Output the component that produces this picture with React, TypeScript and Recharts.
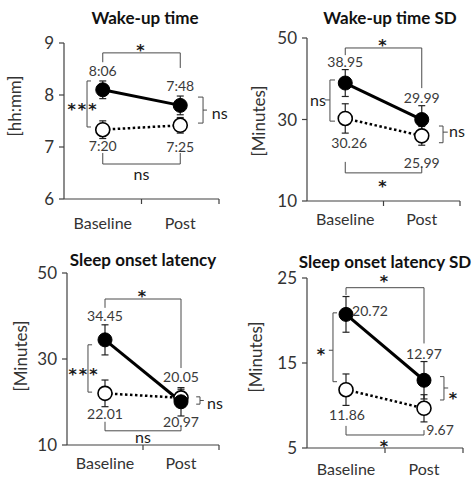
import React from 'react';
import { LineChart, Line, XAxis, YAxis, ErrorBar, ReferenceLine, ReferenceDot } from 'recharts';

const categories = ['Baseline', 'Post'];

// Wake-up time (hours, shown as hh:mm)
const wakeBlack = [8.1, 7.8];
const wakeBlackErr = [0.17, 0.18];
const wakeWhite = [7.333, 7.417];
const wakeWhiteErr = [0.17, 0.15];
const wakeTicks = [6, 7, 8, 9];
const wakeSig = ['*', '***', 'ns', 'ns'];

// Wake-up time SD (minutes)
const wakeSdBlack = [38.95, 29.99];
const wakeSdBlackErr = [3.3, 3.4];
const wakeSdWhite = [30.26, 25.99];
const wakeSdWhiteErr = [3.6, 2.3];
const wakeSdTicks = [10, 30, 50];
const wakeSdSig = ['*', 'ns', 'ns', '*'];

// Sleep onset latency (minutes)
const solBlack = [34.45, 20.05];
const solBlackErr = [3.5, 3.3];
const solWhite = [22.01, 20.97];
const solWhiteErr = [3.1, 2.0];
const solTicks = [10, 30, 50];
const solSig = ['*', '***', 'ns', 'ns'];

// Sleep onset latency SD (minutes)
const solSdBlack = [20.72, 12.97];
const solSdBlackErr = [2.1, 2.2];
const solSdWhite = [11.86, 9.67];
const solSdWhiteErr = [1.85, 1.6];
const solSdTicks = [5, 15, 25];
const solSdSig = ['*', '*', '*', '*'];

const FONT = 'Lato, "Open Sans", sans-serif';
const STAR_FONT = '"DejaVu Sans", sans-serif';
const INK = '#333';
const AXIS = '#404040';
const BR = '#4a4a4a';

const toHHMM = (v: number) => {
  const h = Math.floor(v);
  const m = Math.round((v - h) * 60);
  return `${h}:${String(m).padStart(2, '0')}`;
};
const toFix2 = (v: number) => v.toFixed(2);

type HB = { kind: 'h'; x1: number; x2: number; y: number; leg1: number; leg2: number };
type VB = { kind: 'v'; x: number; y1: number; y2: number; arm: number; mid?: number; midY?: number };
type Note = { x: number; y: number };

type Panel = {
  title: string;
  yLabel: string;
  left: number;
  top: number;
  width: number;
  height: number;
  marginTop: number;
  marginRight: number;
  yAxisWidth: number;
  xAxisHeight: number;
  xLabelDy: number;
  domain: [number, number];
  ticks: number[];
  black: number[];
  blackErr: number[];
  white: number[];
  whiteErr: number[];
  fmt: (v: number) => string;
  blackOff: [number, number][];
  whiteOff: [number, number][];
  brackets: (HB | VB)[];
  sig: string[];
  notes: Note[];
  titlePos: [number, number];
  yLabelPos: [number, number];
};

const panels: Panel[] = [
  {
    title: 'Wake-up time', yLabel: '[hh:mm]',
    left: 0, top: 0, width: 238, height: 240,
    marginTop: 43, marginRight: 19, yAxisWidth: 64, xAxisHeight: 41, xLabelDy: 23,
    domain: [6, 9], ticks: wakeTicks,
    black: wakeBlack, blackErr: wakeBlackErr, white: wakeWhite, whiteErr: wakeWhiteErr,
    fmt: toHHMM,
    blackOff: [[0, -19], [0, -20]], whiteOff: [[0, 16], [0, 21]],
    brackets: [
      { kind: 'h', x1: 0.5, x2: 1.5, y: 8.81, leg1: 8.63, leg2: 8.52 },
      { kind: 'v', x: 0.297, y1: 8.27, y2: 7.385, arm: 0.348 },
      { kind: 'v', x: 1.794, y1: 7.96, y2: 7.46, arm: 1.729, mid: 1.845, midY: 7.71 },
      { kind: 'h', x1: 0.5, x2: 1.5, y: 6.673, leg1: 6.885, leg2: 6.885 },
    ],
    sig: wakeSig,
    notes: [{ x: 1.0, y: 8.94 }, { x: 0.245, y: 7.81 }, { x: 2.01, y: 7.67 }, { x: 1.0, y: 6.5 }],
    titlePos: [145, 18], yLabelPos: [14, 106],
  },
  {
    title: 'Wake-up time SD', yLabel: '[Minutes]',
    left: 238, top: 0, width: 238, height: 240,
    marginTop: 38, marginRight: 16, yAxisWidth: 69, xAxisHeight: 39, xLabelDy: 17,
    domain: [10, 50], ticks: wakeSdTicks,
    black: wakeSdBlack, blackErr: wakeSdBlackErr, white: wakeSdWhite, whiteErr: wakeSdWhiteErr,
    fmt: toFix2,
    blackOff: [[0, -22], [0, -22.5]], whiteOff: [[4, 24], [0, 27]],
    brackets: [
      { kind: 'h', x1: 0.5, x2: 1.5, y: 47.55, leg1: 45.8, leg2: 37.7 },
      { kind: 'v', x: 0.3, y1: 39.7, y2: 29.6, arm: 0.366, mid: 0.235, midY: 34.8 },
      { kind: 'v', x: 1.778, y1: 28.4, y2: 24.3, arm: 1.725, mid: 1.84, midY: 26.9 },
      { kind: 'h', x1: 0.5, x2: 1.5, y: 16.9, leg1: 19.6, leg2: 18.5 },
    ],
    sig: wakeSdSig,
    notes: [{ x: 1.0, y: 49.3 }, { x: 0.144, y: 34.8 }, { x: 1.96, y: 27.2 }, { x: 1.0, y: 14.7 }],
    titlePos: [152, 18], yLabelPos: [20, 121],
  },
  {
    title: 'Sleep onset latency', yLabel: '[Minutes]',
    left: 0, top: 240, width: 238, height: 242,
    marginTop: 33, marginRight: 19, yAxisWidth: 67, xAxisHeight: 37, xLabelDy: 17,
    domain: [10, 50], ticks: solTicks,
    black: solBlack, blackErr: solBlackErr, white: solWhite, whiteErr: solWhiteErr,
    fmt: toFix2,
    blackOff: [[0, -24], [0, -25]], whiteOff: [[0, 20], [0, 24]],
    brackets: [
      { kind: 'h', x1: 0.5, x2: 1.5, y: 43.95, leg1: 41.9, leg2: 27.9 },
      { kind: 'v', x: 0.276, y1: 33.3, y2: 22.3, arm: 0.33 },
      { kind: 'v', x: 1.75, y1: 21.2, y2: 19.5, arm: 1.7, mid: 1.8, midY: 20.35 },
      { kind: 'h', x1: 0.5, x2: 1.5, y: 13.3, leg1: 15.4, leg2: 14.2 },
    ],
    sig: solSig,
    notes: [{ x: 1.0, y: 45.7 }, { x: 0.224, y: 27.4 }, { x: 1.947, y: 20.0 }, { x: 1.0, y: 11.9 }],
    titlePos: [143, 20], yLabelPos: [20, 116],
  },
  {
    title: 'Sleep onset latency SD', yLabel: '[Minutes]',
    left: 238, top: 240, width: 238, height: 242,
    marginTop: 38, marginRight: 13, yAxisWidth: 69, xAxisHeight: 34, xLabelDy: 20,
    domain: [5, 25], ticks: solSdTicks,
    black: solSdBlack, blackErr: solSdBlackErr, white: solSdWhite, whiteErr: solSdWhiteErr,
    fmt: toFix2,
    blackOff: [[24, -4], [0, -27]], whiteOff: [[1, 25], [16, 21]],
    brackets: [
      { kind: 'h', x1: 0.5, x2: 1.5, y: 23.86, leg1: 23.0, leg2: 17.3 },
      { kind: 'v', x: 0.333, y1: 20.9, y2: 12.8, arm: 0.385, mid: 0.28, midY: 16.5 },
      { kind: 'v', x: 1.756, y1: 13.4, y2: 10.65, arm: 1.705, mid: 1.81, midY: 12.06 },
      { kind: 'h', x1: 0.5, x2: 1.5, y: 6.53, leg1: 7.6, leg2: 7.1 },
    ],
    sig: solSdSig,
    notes: [{ x: 1.0, y: 25.2 }, { x: 0.19, y: 16.6 }, { x: 1.885, y: 11.35 }, { x: 1.0, y: 5.8 }],
    titlePos: [147, 22], yLabelPos: [17, 117],
  },
];

function seg(key: string, a: { x: number; y: number }, b: { x: number; y: number }) {
  return (
    <ReferenceLine
      key={key}
      segment={[a, b]}
      stroke={BR}
      strokeWidth={1}
      ifOverflow="visible"
    />
  );
}

function bracketLines(b: HB | VB, key: string) {
  if (b.kind === 'h') {
    return [
      seg(key + 'l', { x: b.x1, y: b.leg1 }, { x: b.x1, y: b.y }),
      seg(key + 'm', { x: b.x1, y: b.y }, { x: b.x2, y: b.y }),
      seg(key + 'r', { x: b.x2, y: b.y }, { x: b.x2, y: b.leg2 }),
    ];
  }
  const out = [
    seg(key + 't', { x: b.arm, y: b.y1 }, { x: b.x, y: b.y1 }),
    seg(key + 'v', { x: b.x, y: b.y1 }, { x: b.x, y: b.y2 }),
    seg(key + 'b', { x: b.x, y: b.y2 }, { x: b.arm, y: b.y2 }),
  ];
  if (b.mid !== undefined && b.midY !== undefined) {
    out.push(seg(key + 'c', { x: b.x, y: b.midY }, { x: b.mid, y: b.midY }));
  }
  return out;
}

function textDot(key: string, x: number, y: number, text: string, dx: number, dy: number, size: number, color: string) {
  const isStar = text.includes('*');
  return (
    <ReferenceDot
      key={key}
      x={x}
      y={y}
      r={1}
      fill="none"
      stroke="none"
      ifOverflow="visible"
      shape={(props: any) => (
        <text
          x={props.cx + dx}
          y={props.cy + dy + (isStar ? size * 0.3 : 0)}
          textAnchor="middle"
          dominantBaseline="central"
          fontFamily={isStar ? STAR_FONT : FONT}
          fontWeight={isStar ? 700 : 400}
          fontSize={size}
          fill={color}
          letterSpacing={isStar ? 2 : 0}
        >
          {text}
        </text>
      )}
    />
  );
}

function PanelChart({ p }: { p: Panel }) {
  const data = categories.map((c, i) => ({
    x: i + 0.5,
    cat: c,
    b: p.black[i],
    be: p.blackErr[i],
    w: p.white[i],
    we: p.whiteErr[i],
  }));

  const xTick = (t: any) => {
    const v = t.payload.value;
    if (Number.isInteger(v)) {
      return <line x1={t.x} x2={t.x} y1={t.y} y2={t.y + 5} stroke={AXIS} strokeWidth={1.2} />;
    }
    return (
      <text
        x={t.x}
        y={t.y + p.xLabelDy}
        textAnchor="middle"
        dominantBaseline="central"
        fontFamily={FONT}
        fontSize={16}
        fill={INK}
      >
        {categories[Math.floor(v)]}
      </text>
    );
  };

  const yLabel = () => (
    <text
      x={p.yLabelPos[0]}
      y={p.yLabelPos[1]}
      transform={`rotate(-90 ${p.yLabelPos[0]} ${p.yLabelPos[1]})`}
      textAnchor="middle"
      dominantBaseline="central"
      fontFamily={FONT}
      fontSize={17}
      fill={INK}
    >
      {p.yLabel}
    </text>
  );

  return (
    <div style={{ position: 'absolute', left: p.left, top: p.top, width: p.width, height: p.height }}>
      <LineChart
        width={p.width}
        height={p.height}
        data={data}
        margin={{ top: p.marginTop, right: p.marginRight, bottom: 0, left: 0 }}
      >
        <XAxis
          dataKey="x"
          type="number"
          domain={[0, 2]}
          ticks={[0.5, 1, 1.5, 2]}
          interval={0}
          tickLine={false}
          tickSize={0}
          tickMargin={0}
          height={p.xAxisHeight}
          axisLine={{ stroke: AXIS, strokeWidth: 1.2 }}
          tick={xTick}
          allowDataOverflow
        />
        <YAxis
          type="number"
          domain={p.domain}
          ticks={p.ticks}
          interval={0}
          width={p.yAxisWidth}
          tickSize={5}
          tickMargin={5}
          axisLine={{ stroke: AXIS, strokeWidth: 1.2 }}
          tickLine={{ stroke: AXIS, strokeWidth: 1.2 }}
          tick={{ fill: INK, fontSize: 17, fontFamily: FONT }}
          allowDataOverflow
          label={{ content: yLabel }}
        />
        {p.brackets.flatMap((b, i) => bracketLines(b, `br${i}`))}
        <Line
          dataKey="w"
          type="linear"
          stroke="#000"
          strokeWidth={2.5}
          strokeDasharray="2.5 2.5"
          dot={{ r: 7, fill: '#fff', stroke: '#000', strokeWidth: 1.6, strokeDasharray: '0' }}
          activeDot={false}
          isAnimationActive={false}
        >
          <ErrorBar dataKey="we" direction="y" width={3.5} stroke="#222" strokeWidth={1.2} />
        </Line>
        <Line
          dataKey="b"
          type="linear"
          stroke="#000"
          strokeWidth={3}
          dot={{ r: 7, fill: '#000', stroke: '#000', strokeWidth: 1 }}
          activeDot={false}
          isAnimationActive={false}
        >
          <ErrorBar dataKey="be" direction="y" width={3.5} stroke="#222" strokeWidth={1.2} />
        </Line>
        {data.map((d, i) =>
          textDot(`bl${i}`, d.x, d.b, p.fmt(d.b), p.blackOff[i][0], p.blackOff[i][1], 14, '#3a3a3a')
        )}
        {data.map((d, i) =>
          textDot(`wl${i}`, d.x, d.w, p.fmt(d.w), p.whiteOff[i][0], p.whiteOff[i][1], 14, '#3a3a3a')
        )}
        {p.notes.map((n, i) =>
          textDot(`n${i}`, n.x, n.y, p.sig[i], 0, 0, p.sig[i].includes('*') ? 16 : 16, '#1a1a1a')
        )}
      </LineChart>
      <div
        style={{
          position: 'absolute',
          left: p.titlePos[0] - 110,
          top: p.titlePos[1] - 10,
          width: 220,
          height: 20,
          lineHeight: '20px',
          textAlign: 'center',
          fontFamily: FONT,
          fontWeight: 700,
          fontSize: 17,
          color: '#111',
          whiteSpace: 'nowrap',
        }}
      >
        {p.title}
      </div>
    </div>
  );
}

export default function App() {
  return (
    <div style={{ position: 'absolute', left: 0, top: 0, width: 476, height: 482, background: '#fff' }}>
      {panels.map((p) => (
        <PanelChart key={p.title} p={p} />
      ))}
    </div>
  );
}
